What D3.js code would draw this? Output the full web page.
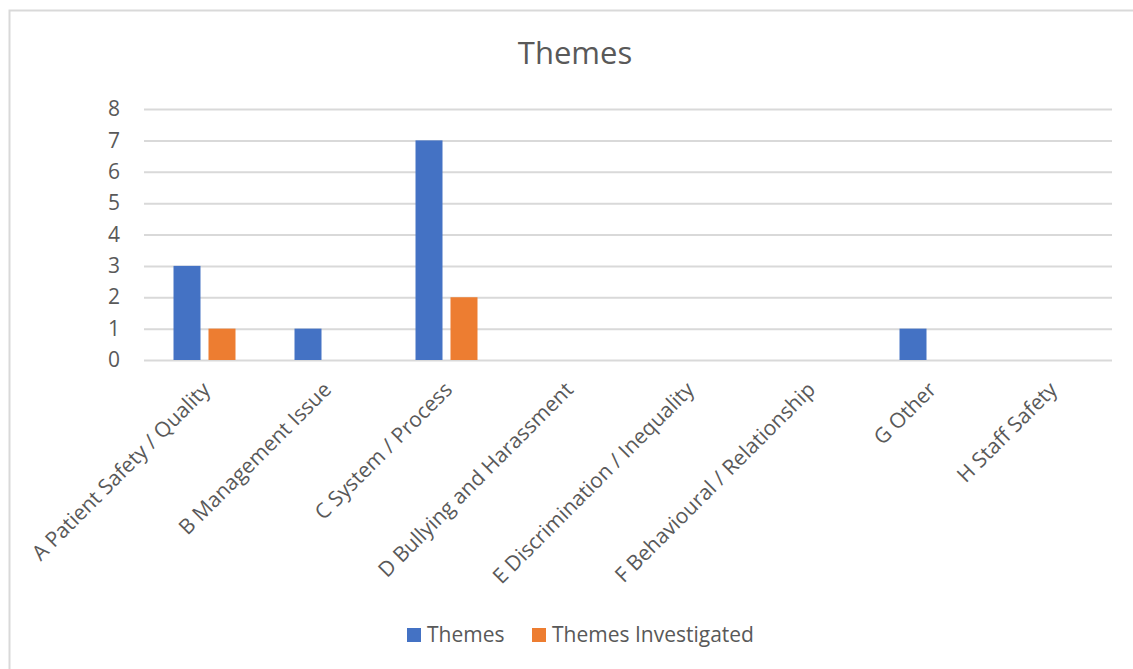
<!DOCTYPE html>
<html>
<head>
<meta charset="utf-8">
<script src="https://cdn.jsdelivr.net/npm/d3@7"></script>
<style>
  body { margin: 0; background: #fff; }
  svg { display: block; font-family: "Open Sans", sans-serif; }
</style>
</head>
<body>
<svg width="1133" height="669"></svg>
<script>
const categories = ["A Patient Safety / Quality", "B Management Issue", "C System / Process",
  "D Bullying and Harassment", "E Discrimination / Inequality", "F Behavioural / Relationship",
  "G Other", "H Staff Safety"];
const themes = [3, 1, 7, 0, 0, 0, 1, 0];
const themesInvestigated = [1, 0, 2, 0, 0, 0, 0, 0];
const seriesNames = ["Themes", "Themes Investigated"];
const yTicks = [0, 1, 2, 3, 4, 5, 6, 7, 8];

const colors = ["#4472C4", "#ED7D31"];
const textColor = "#595959";
const gridColor = "#D9D9D9";

const svg = d3.select("svg");

// chart frame (runs off the right and bottom edge of the shot)
svg.append("rect")
  .attr("x", 9.5).attr("y", 10.5)
  .attr("width", 1140).attr("height", 700)
  .attr("fill", "none").attr("stroke", gridColor).attr("stroke-width", 2);

const x0 = d3.scaleBand().domain(categories).range([144, 1112]).padding(0);
const x1 = d3.scaleBand().domain(seriesNames).range([0, x0.bandwidth()])
  .paddingInner(0.2286).paddingOuter(0.843);
const y = d3.scaleLinear().domain([0, 8]).range([360, 109]);

// title
svg.append("text")
  .attr("x", 575).attr("y", 64)
  .attr("text-anchor", "middle")
  .attr("fill", textColor)
  .style("font-size", "31px")
  .text("Themes");

// gridlines + y labels
const yAxis = d3.axisLeft(y).tickValues(yTicks).tickSize(-(1112 - 144)).tickPadding(24);
const gy = svg.append("g").attr("transform", "translate(144,0)").call(yAxis);
gy.select(".domain").remove();
gy.selectAll(".tick line").attr("stroke", gridColor).attr("stroke-width", 2);
gy.selectAll(".tick text")
  .attr("fill", textColor)
  .style("font-size", "21px")
  .style("font-family", "Open Sans, sans-serif");

// bars
const rows = categories.map((c, i) => ({ cat: c, vals: [themes[i], themesInvestigated[i]] }));
const groups = svg.append("g").selectAll("g")
  .data(rows).enter().append("g")
  .attr("transform", d => `translate(${x0(d.cat)},0)`);

groups.selectAll("rect")
  .data(d => d.vals.map((v, j) => ({ key: seriesNames[j], v: v, j: j })))
  .enter().append("rect")
  .attr("x", d => x1(d.key))
  .attr("width", x1.bandwidth())
  .attr("y", d => y(d.v))
  .attr("height", d => y(0) - y(d.v))
  .attr("fill", d => colors[d.j]);

// rotated category labels
svg.append("g").selectAll("text")
  .data(categories).enter().append("text")
  .attr("text-anchor", "end")
  .attr("transform", d => `translate(${x0(d) + x0.bandwidth() / 2 + 7},391) rotate(-45)`)
  .attr("fill", textColor)
  .style("font-size", "21px")
  .text(d => d);

// legend
const legendX = [407, 532];
const legend = svg.append("g").selectAll("g")
  .data(seriesNames).enter().append("g")
  .attr("transform", (d, i) => `translate(${legendX[i]},628)`);
legend.append("rect")
  .attr("width", 14).attr("height", 14)
  .attr("fill", (d, i) => colors[i]);
legend.append("text")
  .attr("x", 20).attr("y", 14)
  .attr("fill", textColor)
  .style("font-size", "21px")
  .text(d => d);
</script>
</body>
</html>
